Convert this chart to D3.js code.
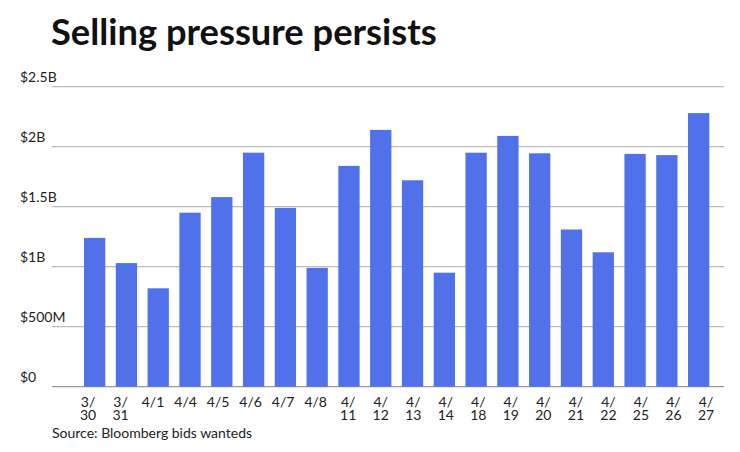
<!DOCTYPE html>
<html>
<head>
<meta charset="utf-8">
<script src="https://cdn.jsdelivr.net/npm/d3@7"></script>
<style>
  html, body { margin: 0; padding: 0; background: #fff; }
  svg { display: block; font-family: Lato, "Noto Sans", sans-serif; }
</style>
</head>
<body>
<div id="chart"></div>
<script>
const dates = ["3/30", "3/31", "4/1", "4/4", "4/5", "4/6", "4/7", "4/8", "4/11", "4/12",
  "4/13", "4/14", "4/18", "4/19", "4/20", "4/21", "4/22", "4/25", "4/26", "4/27"];
// bids wanted volume, in $ billions
const volumes = [1.24, 1.03, 0.82, 1.45, 1.58, 1.95, 1.49, 0.99, 1.84, 2.14,
  1.72, 0.95, 1.95, 2.09, 1.945, 1.31, 1.12, 1.94, 1.93, 2.28];
const yTicks = [0, 0.5, 1, 1.5, 2, 2.5];
const yTickLabels = ["$0", "$500M", "$1B", "$1.5B", "$2B", "$2.5B"];

const WIDTH = 740, HEIGHT = 452;
const svg = d3.select("#chart").append("svg").attr("width", WIDTH).attr("height", HEIGHT);

const y = d3.scaleLinear().domain([0, 2.5]).range([386.7, 86.7]);
const x = d3.scaleBand().domain(dates).range([78.75, 714.55]).paddingInner(0.33).paddingOuter(0.165);
const xLabel = d3.scalePoint().domain(dates).range([88, 706]);

svg.append("text").attr("x", 51).attr("y", 45)
  .style("font-size", "36.3px").style("font-weight", 700).attr("fill", "#111")
  .text("Selling pressure persists");

const grid = svg.append("g");
grid.selectAll("line").data(yTicks).join("line")
  .attr("x1", 52).attr("x2", 724)
  .attr("y1", d => y(d)).attr("y2", d => y(d))
  .attr("stroke", d => d === 0 ? "#999" : "#bbb").attr("stroke-width", 1.2);
grid.selectAll("text").data(yTicks).join("text")
  .attr("x", 20).attr("y", d => y(d) - 5)
  .style("font-size", "14px").attr("fill", "#222")
  .text((d, i) => yTickLabels[i]);

svg.append("g").selectAll("rect").data(volumes).join("rect")
  .attr("x", (d, i) => x(dates[i]))
  .attr("width", x.bandwidth())
  .attr("y", d => y(d))
  .attr("height", d => y(0) - y(d))
  .attr("fill", "#5171eb");

// long dates wrap after the slash, like the original
const xAxis = svg.append("g").attr("text-anchor", "middle")
  .style("font-size", "14px").attr("fill", "#222");
dates.forEach(d => {
  const parts = d.split("/");
  const lines = parts[1].length > 1 ? [parts[0] + "/", parts[1]] : [d];
  lines.forEach((s, j) => {
    xAxis.append("text").attr("x", xLabel(d)).attr("y", 407 + j * 13).text(s);
  });
});

svg.append("text").attr("x", 52).attr("y", 438)
  .style("font-size", "14px").attr("fill", "#222")
  .text("Source: Bloomberg bids wanteds");
</script>
</body>
</html>
